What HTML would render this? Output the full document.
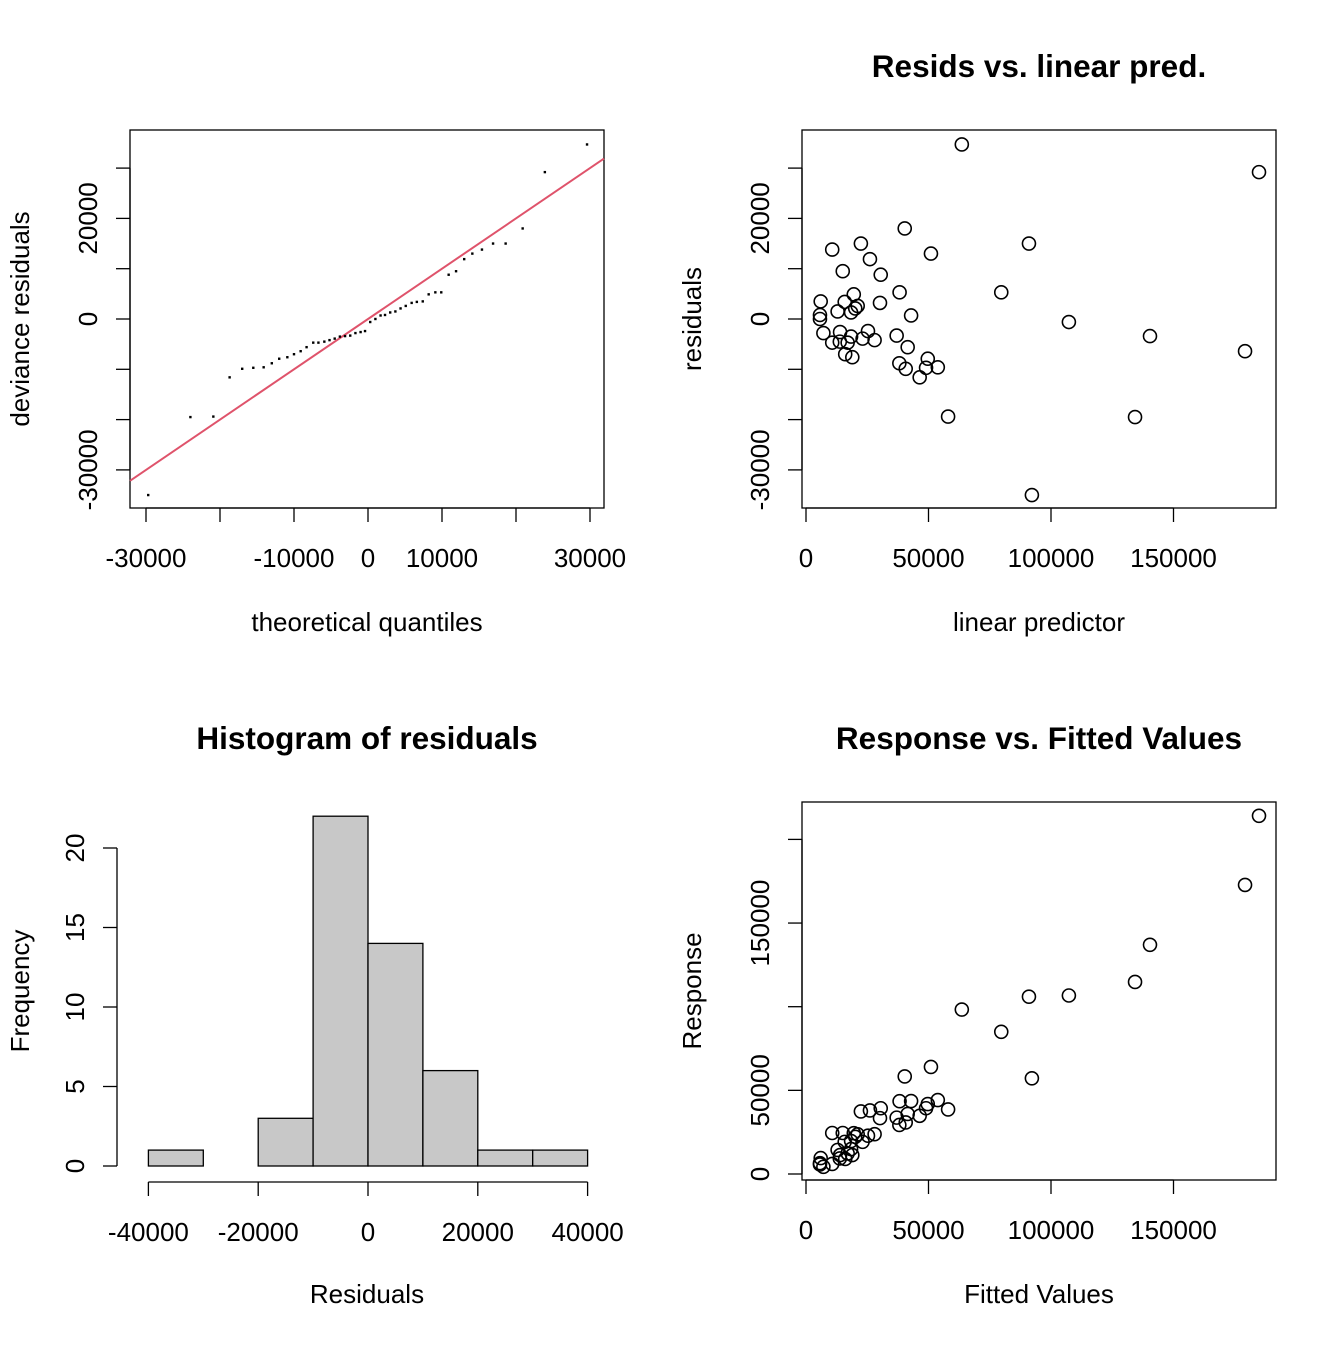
<!DOCTYPE html>
<html><head><meta charset="utf-8"><style>
html,body{margin:0;padding:0;background:#fff}
svg text{font-family:"Liberation Sans",Arial,sans-serif;font-size:26px;fill:#000}
</style></head><body>
<svg id="c" width="1344" height="1344" xmlns="http://www.w3.org/2000/svg"></svg>
<script>
const fitted=[63.6,40.3,91.0,22.4,10.7,51.0,26.1,15.0,30.5,38.2,79.7,19.5,6.0,15.8,30.2,21.1,20.1,12.9,18.4,5.7,5.7,42.9,7.1,13.9,25.3,18.4,23.1,28.0,37.0,10.7,13.8,17.0,41.5,16.0,18.9,38.1,40.7,49.7,49.0,53.8,46.4,58.0,184.9,107.3,140.4,179.2,134.3,92.2];
const residuals=[34.7,18.0,15.0,15.0,13.8,13.0,11.9,9.5,8.8,5.3,5.3,4.9,3.5,3.4,3.2,2.6,2.1,1.5,1.3,0.8,0.0,0.7,-2.8,-2.6,-2.4,-3.5,-3.9,-4.2,-3.3,-4.7,-4.5,-4.7,-5.6,-7.0,-7.6,-8.8,-9.9,-7.9,-9.7,-9.6,-11.6,-19.4,29.2,-0.6,-3.4,-6.4,-19.5,-35.0];
const response=[98.3,58.3,106.0,37.4,24.5,64.0,38.0,24.5,39.3,43.5,85.0,24.4,9.5,19.2,33.4,23.7,22.2,14.4,19.7,6.5,5.7,43.6,4.3,11.3,22.9,14.9,19.2,23.8,33.7,6.0,9.3,12.3,35.9,9.0,11.3,29.3,30.8,41.8,39.3,44.2,34.8,38.6,214.1,106.7,137.0,172.8,114.8,57.2];
const qqTheo=[-29.7,-24.0,-20.9,-18.7,-17.0,-15.5,-14.1,-13.0,-12.0,-10.9,-10.0,-9.1,-8.3,-7.4,-6.7,-5.9,-5.2,-4.5,-3.8,-3.1,-2.4,-1.7,-1.0,-0.4,0.3,1.0,1.7,2.3,3.0,3.7,4.4,5.1,5.9,6.6,7.4,8.2,9.1,9.9,10.9,11.9,13.0,14.1,15.4,16.9,18.6,20.9,23.9,29.6];
const qqSample=[-35.0,-19.5,-19.4,-11.6,-9.9,-9.7,-9.6,-8.8,-7.9,-7.6,-7.0,-6.4,-5.6,-4.7,-4.7,-4.5,-4.2,-3.9,-3.5,-3.4,-3.3,-2.8,-2.6,-2.4,-0.6,0.0,0.7,0.8,1.3,1.5,2.1,2.6,3.2,3.4,3.5,4.9,5.3,5.3,8.8,9.5,11.9,13.0,13.8,15.0,15.0,18.0,29.2,34.7];
const histBreaks=[-40,-30,-20,-10,0,10,20,30,40];
const histCounts=[1,0,3,22,14,6,1,1];
const qqXTicks=[-30000,-20000,-10000,0,10000,20000,30000];
const qqXLabels=["-30000","","-10000","0","10000","","30000"];
const residTicks=[-30000,-20000,-10000,0,10000,20000,30000];
const residLabels=["-30000","","","0","","20000",""];
const fitTicks=[0,50000,100000,150000];
const histXTicks=[-40000,-20000,0,20000,40000];
const histYTicks=[0,5,10,15,20];
const respTicks=[0,50000,100000,150000,200000];
const respLabels=["0","50000","","150000",""];

const S=document.getElementById('c');const NS='http://www.w3.org/2000/svg';
function mk(t,a,p){const e=document.createElementNS(NS,t);for(const k in a)e.setAttribute(k,a[k]);(p||S).appendChild(e);return e;}
function txt(x,y,s,o){const e=mk('text',{x:x,y:y,'text-anchor':'middle'});e.textContent=s;if(o&&o.rot)e.setAttribute('transform','rotate(-90 '+x+' '+y+')');if(o&&o.bold){e.setAttribute('font-weight','bold');e.setAttribute('style','font-size:31.5px');}return e;}
const tlx=v=>368+v*0.0074, ry=v=>319-v*0.00503;
const frx=v=>806+v*0.00245;
const hx=v=>368+v*0.00549, hy=v=>1166-v*15.9;
const bry=v=>1174-v*0.001673;
function xaxis(g,ticks,labels,fx,yAxis,name){
  const a=mk('g',{});
  mk('line',{x1:fx(ticks[0]),x2:fx(ticks[ticks.length-1]),y1:yAxis,y2:yAxis,stroke:'#000','stroke-width':1.3},a);
  ticks.forEach((t,i)=>{mk('line',{x1:fx(t),x2:fx(t),y1:yAxis,y2:yAxis+14,stroke:'#000','stroke-width':1.3},a);
    if(labels[i]){const e=txt(fx(t),yAxis+59,labels[i]);a.appendChild(e);}});
}
function yaxis(ticks,labels,fy,xAxis,name){
  const a=mk('g',{});
  mk('line',{x1:xAxis,x2:xAxis,y1:fy(ticks[0]),y2:fy(ticks[ticks.length-1]),stroke:'#000','stroke-width':1.3},a);
  ticks.forEach((t,i)=>{mk('line',{x1:xAxis,x2:xAxis-14,y1:fy(t),y2:fy(t),stroke:'#000','stroke-width':1.3},a);
    if(labels[i]){const e=txt(xAxis-33,fy(t),labels[i],{rot:1});a.appendChild(e);}});
}
function box(x1,y1,x2,y2,name){const r=mk('rect',{x:x1,y:y1,width:x2-x1,height:y2-y1,fill:'none',stroke:'#000','stroke-width':1.3});}
// Panel 1: QQ
box(130,130,604,508,'qq-plot-box');
const ln=mk('line',{x1:130,y1:ry((130-368)/0.0074),x2:604,y2:ry((604-368)/0.0074),stroke:'#DF536B','stroke-width':2});

qqTheo.forEach((t,i)=>{const r=mk('rect',{x:tlx(t*1000)-1.2,y:ry(qqSample[i]*1000)-1.2,width:2.4,height:2.4,fill:'#000'});
  });
xaxis(null,qqXTicks,qqXLabels,tlx,508,'qq-x-axis');
yaxis(residTicks,residLabels,ry,130,'qq-y-axis');
let e=txt(367,631,'theoretical quantiles');
e=txt(29,319,'deviance residuals',{rot:1});
// Panel 2
box(802,130,1276,508,'resid-plot-box');
e=txt(1039,77,'Resids vs. linear pred.',{bold:1});
fitted.forEach((f,i)=>{const c=mk('circle',{cx:frx(f*1000),cy:ry(residuals[i]*1000),r:6.5,fill:'none',stroke:'#000','stroke-width':1.6});
  });
xaxis(null,fitTicks,["0","50000","100000","150000"],frx,508,'resid-x-axis');
yaxis(residTicks,residLabels,ry,802,'resid-y-axis');
e=txt(1039,631,'linear predictor');
e=txt(701,319,'residuals',{rot:1});
// Panel 3 histogram
e=txt(367,749,'Histogram of residuals',{bold:1});
histCounts.forEach((c,i)=>{const x1=hx(histBreaks[i]*1000),x2=hx(histBreaks[i+1]*1000);
  const r=mk('rect',{x:x1,y:hy(c),width:x2-x1,height:hy(0)-hy(c),fill:'#C8C8C8',stroke:'#000','stroke-width':1.3});
  });
xaxis(null,histXTicks,["-40000","-20000","0","20000","40000"],hx,1182,'histogram-x-axis');
yaxis(histYTicks,["0","5","10","15","20"],hy,117,'histogram-y-axis');
e=txt(367,1303,'Residuals');
e=txt(29,991,'Frequency',{rot:1});
// Panel 4
box(802,802,1276,1180,'response-plot-box');
e=txt(1039,749,'Response vs. Fitted Values',{bold:1});
fitted.forEach((f,i)=>{const c=mk('circle',{cx:frx(f*1000),cy:bry(response[i]*1000),r:6.5,fill:'none',stroke:'#000','stroke-width':1.6});
  });
xaxis(null,fitTicks,["0","50000","100000","150000"],frx,1180,'response-x-axis');
yaxis(respTicks,respLabels,bry,802,'response-y-axis');
e=txt(1039,1303,'Fitted Values');
e=txt(701,991,'Response',{rot:1});
</script>
</body></html>
